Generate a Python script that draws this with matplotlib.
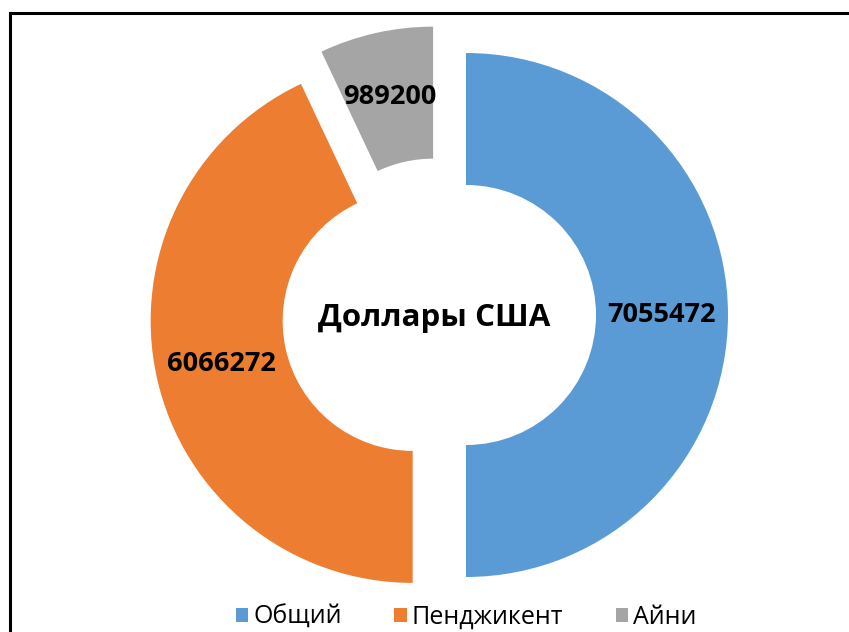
import matplotlib
matplotlib.use("Agg")
import matplotlib.pyplot as plt

# Data
categories = ["Общий", "Пенджикент", "Айни"]
values = [7055472, 6066272, 989200]
colors = ["#5B9BD5", "#ED7D31", "#A5A5A5"]
center_title = "Доллары США"

plt.rcParams["font.family"] = ["Open Sans", "DejaVu Sans"]

W, H = 849, 632
fig = plt.figure(figsize=(W / 100, H / 100), dpi=100)
ax = fig.add_axes([0, 0, 1, 1])

total = sum(values)
outer_r = 262
ring_w = 132
ring_mid = outer_r - ring_w / 2

wedges, _, autotexts = ax.pie(
    values,
    colors=colors,
    startangle=90,
    counterclock=False,
    center=(439, H - 315),
    radius=outer_r,
    explode=[27, 27, 27],
    wedgeprops=dict(width=ring_w, edgecolor="none"),
    autopct=lambda p: f"{round(p * total / 100)}",
    pctdistance=ring_mid / outer_r,
    textprops=dict(fontsize=19.5, fontweight="bold", color="black"),
)

ax.text(434, H - 318, center_title, ha="center", va="center",
        fontsize=22.5, fontweight="bold", color="black")

ax.set_xlim(0, W)
ax.set_ylim(0, H)
ax.set_aspect("equal")
ax.axis("off")

# Chart area border (left and top edges)
ax.plot([10.5, 10.5], [0, H - 12.5], color="black", lw=2.2,
        solid_capstyle="projecting")
ax.plot([10.5, W], [H - 12.5, H - 12.5], color="black", lw=2.2,
        solid_capstyle="projecting")

leg = ax.legend(
    wedges, categories,
    loc="center", bbox_to_anchor=(466, H - 617), bbox_transform=ax.transData,
    ncol=3, frameon=False, fontsize=18,
    handlelength=0.5, handleheight=0.5, handletextpad=0.2,
    columnspacing=2.1,
)

fig.savefig("out.png", dpi=100)
